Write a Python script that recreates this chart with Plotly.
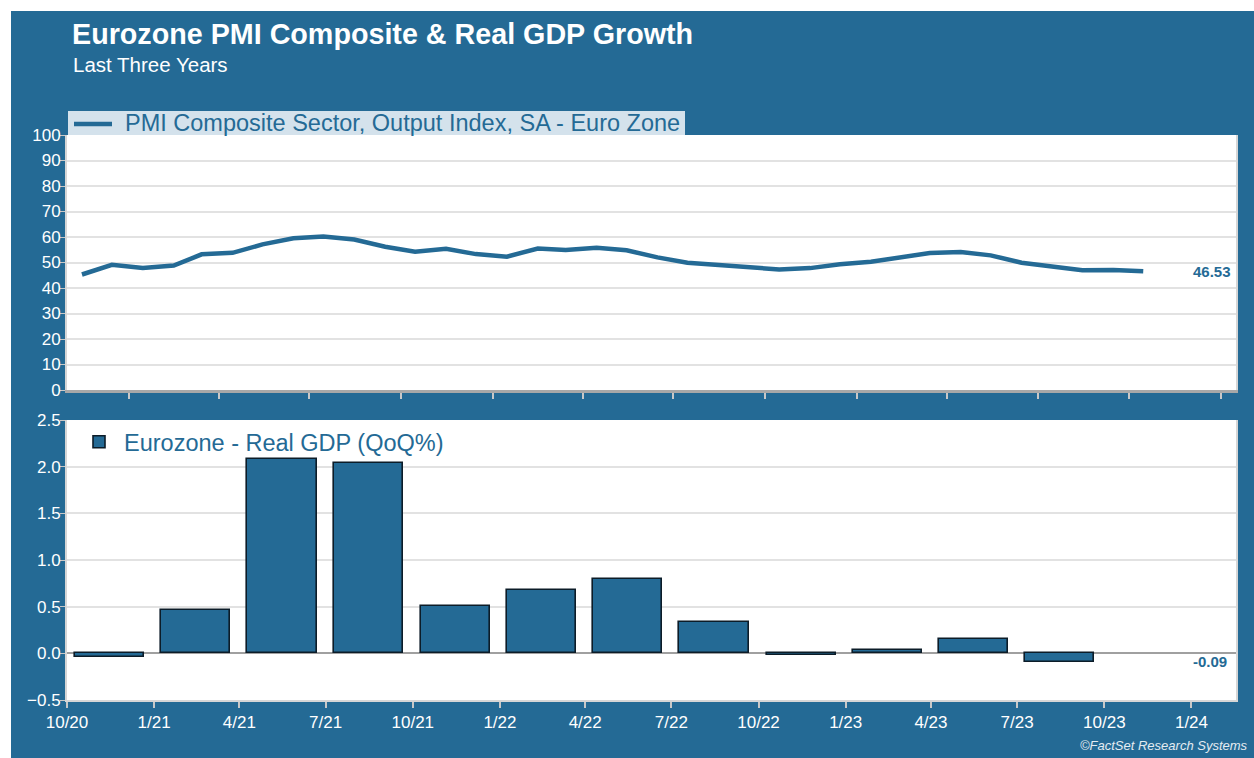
import plotly.graph_objects as go
from plotly.subplots import make_subplots

# ---------------- data ----------------
pmi_dates = [
    "2020-11-15", "2020-12-15", "2021-01-15", "2021-02-15", "2021-03-15", "2021-04-15",
    "2021-05-15", "2021-06-15", "2021-07-15", "2021-08-15", "2021-09-15", "2021-10-15",
    "2021-11-15", "2021-12-15", "2022-01-15", "2022-02-15", "2022-03-15", "2022-04-15",
    "2022-05-15", "2022-06-15", "2022-07-15", "2022-08-15", "2022-09-15", "2022-10-15",
    "2022-11-15", "2022-12-15", "2023-01-15", "2023-02-15", "2023-03-15", "2023-04-15",
    "2023-05-15", "2023-06-15", "2023-07-15", "2023-08-15", "2023-09-15", "2023-10-15",
]
pmi_values = [
    45.3, 49.1, 47.8, 48.8, 53.2, 53.8,
    57.1, 59.5, 60.2, 59.0, 56.2, 54.2,
    55.4, 53.3, 52.3, 55.5, 54.9, 55.8,
    54.8, 52.0, 49.9, 48.9, 48.1, 47.3,
    47.8, 49.3, 50.3, 52.0, 53.7, 54.1,
    52.8, 49.9, 48.6, 47.0, 47.1, 46.53,
]
gdp_dates = [
    "2020-11-15", "2021-02-14", "2021-05-16", "2021-08-15", "2021-11-15", "2022-02-14",
    "2022-05-16", "2022-08-15", "2022-11-15", "2023-02-14", "2023-05-16", "2023-08-15",
]
gdp_values = [-0.04, 0.46, 2.08, 2.04, 0.51, 0.68, 0.80, 0.34, -0.02, 0.04, 0.15, -0.09]

pmi_name = "PMI Composite Sector, Output Index, SA - Euro Zone"
gdp_name = "Eurozone - Real GDP (QoQ%)"
title_text = "Eurozone PMI Composite & Real GDP Growth"
subtitle_text = "Last Three Years"
source_text = "©FactSet Research Systems"
pmi_last_label = "46.53"
gdp_last_label = "-0.09"

# ---------------- style ----------------
W, H = 1254, 758
ML, MR, MT, MB = 67, 18, 135, 58
PW, PH = W - ML - MR, H - MT - MB
BLUE = "#246a95"
LIGHT = "#d4e2ec"
GRID = "#e2e2e2"
FONT = "Liberation Sans, Arial, Helvetica, sans-serif"
LEG_SIZE = 23.5


def px_x(px):
    return (px - ML) / PW


def px_y(py):
    return (H - MB - py) / PH


fig = make_subplots(rows=2, cols=1, shared_xaxes=False, vertical_spacing=0.05)

fig.add_trace(go.Scatter(
    x=pmi_dates, y=pmi_values, mode="lines", name=pmi_name,
    line=dict(color=BLUE, width=4.5), hoverinfo="skip",
    showlegend=False,
), row=1, col=1)

fig.add_trace(go.Bar(
    x=gdp_dates, y=gdp_values, name=gdp_name,
    width=73 * 86400000,
    marker=dict(color=BLUE, line=dict(color="#0c1c28", width=1.6)),
    legend="legend2", hoverinfo="skip", showlegend=True,
), row=2, col=1)

tickfont = dict(family=FONT, size=17, color="white")

fig.update_layout(
    width=W, height=H,
    margin=dict(l=ML, r=MR, t=MT, b=MB),
    paper_bgcolor=BLUE, plot_bgcolor="white",
    font=dict(family=FONT),
    bargap=0,
    showlegend=True,
    legend2=dict(
        x=px_x(74), xanchor="left", y=px_y(420), yanchor="top",
        bgcolor="rgba(0,0,0,0)", borderwidth=0,
        font=dict(family=FONT, size=LEG_SIZE, color=BLUE),
        itemwidth=40, visible=True,
    ),
    xaxis=dict(
        domain=[0, 1], type="date", range=["2020-10-31", "2024-01-16"],
        tick0="2021-01-01", dtick="M3", ticks="outside", ticklen=6, tickwidth=1.5,
        tickcolor="#c8c8c8", showticklabels=False, showgrid=False,
        showline=True, linecolor="#a8a8a8", linewidth=2.5, zeroline=False,
    ),
    yaxis=dict(
        domain=[px_y(390), 1], range=[0, 100], dtick=10, tick0=0,
        ticks="outside", ticklen=5, tickcolor="#c8c8c8", tickfont=tickfont,
        ticklabelstandoff=-4,
        gridcolor=GRID, gridwidth=1.5, showline=True, mirror=True,
        linecolor="#d6d6d6", linewidth=2, zeroline=False,
    ),
    xaxis2=dict(
        domain=[0, 1], type="date", range=["2020-10-01", "2024-02-17"],
        tick0="2020-10-01", dtick="M3", tickformat="%-m/%y",
        ticks="outside", ticklen=6, tickwidth=1.5, tickcolor="#c8c8c8",
        tickfont=tickfont, showgrid=False, showline=True,
        linecolor="#d6d6d6", linewidth=2, zeroline=False,
    ),
    yaxis2=dict(
        domain=[0, px_y(420)], range=[-0.5, 2.5], dtick=0.5, tick0=0,
        tickformat=".1f", ticks="outside", ticklen=5, tickcolor="#c8c8c8",
        tickfont=tickfont, ticklabelstandoff=-4, gridcolor=GRID, gridwidth=1.5,
        showline=True, mirror=True, linecolor="#d6d6d6", linewidth=2,
        zeroline=True, zerolinecolor="#a0a0a0", zerolinewidth=2,
    ),
)

annotations = [
    dict(text=f"<b>{title_text}</b>", xref="paper", yref="paper",
         x=px_x(70), y=px_y(34), xanchor="left", yanchor="middle",
         showarrow=False, font=dict(family=FONT, size=28.7, color="white")),
    dict(text=subtitle_text, xref="paper", yref="paper",
         x=px_x(71), y=px_y(64), xanchor="left", yanchor="middle",
         showarrow=False, font=dict(family=FONT, size=20.5, color="white")),
    # legend label for the PMI line (box + swatch drawn as shapes below)
    dict(text=pmi_name, xref="paper", yref="paper",
         x=px_x(123), y=px_y(123), xanchor="left", yanchor="middle",
         showarrow=False, font=dict(family=FONT, size=LEG_SIZE, color=BLUE)),
    dict(text=f"<b>{pmi_last_label}</b>", xref="paper", yref="y",
         x=px_x(1233), y=pmi_values[-1], xanchor="right", yanchor="middle",
         showarrow=False, font=dict(family=FONT, size=15, color=BLUE)),
    dict(text=f"<b>{gdp_last_label}</b>", xref="paper", yref="y2",
         x=px_x(1229), y=gdp_values[-1], xanchor="right", yanchor="middle",
         showarrow=False, font=dict(family=FONT, size=15, color=BLUE)),
    dict(text=f"<i>{source_text}</i>", xref="paper", yref="paper",
         x=px_x(1250), y=px_y(745), xanchor="right", yanchor="middle",
         showarrow=False, font=dict(family=FONT, size=13, color="#e4ecf2")),
]
fig.update_layout(annotations=annotations)

fig.update_layout(shapes=[
    # white page margin on top and left of the blue frame
    dict(type="rect", xref="paper", yref="paper", layer="below",
         x0=px_x(0), x1=px_x(11), y0=px_y(H), y1=px_y(0),
         fillcolor="white", line=dict(width=0)),
    dict(type="rect", xref="paper", yref="paper", layer="below",
         x0=px_x(0), x1=px_x(W), y0=px_y(11), y1=px_y(0),
         fillcolor="white", line=dict(width=0)),
    # PMI legend box and line swatch
    dict(type="rect", xref="paper", yref="paper", layer="below",
         x0=px_x(68), x1=px_x(685), y0=px_y(135), y1=px_y(111),
         fillcolor=LIGHT, line=dict(width=0)),
    dict(type="line", xref="paper", yref="paper", layer="above",
         x0=px_x(74), x1=px_x(112), y0=px_y(124), y1=px_y(124),
         line=dict(color=BLUE, width=4.5)),
])

fig.write_html("out.html")
